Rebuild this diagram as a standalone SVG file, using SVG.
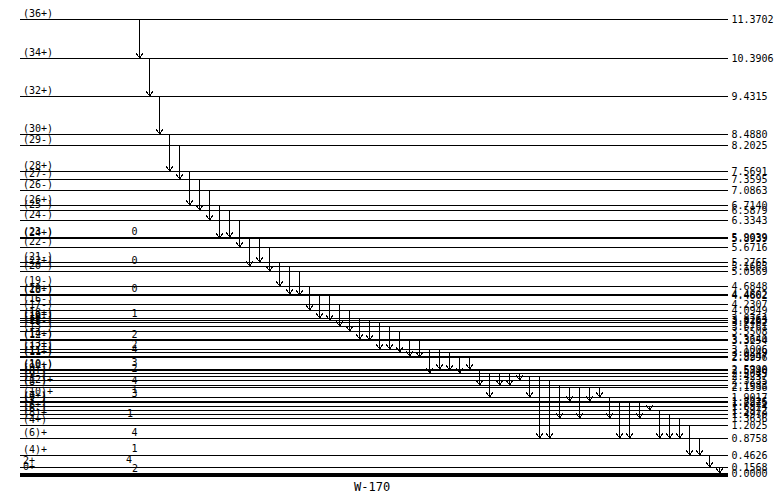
<svg xmlns="http://www.w3.org/2000/svg" width="781" height="496" viewBox="0 0 781 496" shape-rendering="crispEdges">
<style>
line{stroke:#000;stroke-width:1}
.a{stroke:#000;stroke-width:1;fill:none;marker-end:url(#ah)}
text{font-family:'DejaVu Sans Mono','Liberation Mono',monospace;font-size:10px;fill:#000}
.s{text-anchor:start}
.big{font-size:12px}
</style>
<defs>
<marker id="ah" markerUnits="userSpaceOnUse" orient="auto" overflow="visible" refX="0" refY="0" markerWidth="8" markerHeight="8">
<path d="M-5,-3.5 L0,0 L-5,3.5" stroke="#000" fill="none" stroke-width="1"/>
<rect x="-2" y="-1" width="2" height="2" fill="#000"/>
</marker>
</defs>
<rect width="781" height="496" fill="#fff"/>
<g id="levels">
<g id="L36p"><line x1="20" y1="19.5" x2="728" y2="19.5"/><text x="23" y="16.5">(36+)</text><text x="731.5" y="23">11.3702</text></g>
<g id="L34p"><line x1="20" y1="58.5" x2="728" y2="58.5"/><text x="23" y="55.5">(34+)</text><text x="731.5" y="62">10.3906</text></g>
<g id="L32p"><line x1="20" y1="96.5" x2="728" y2="96.5"/><text x="23" y="93.5">(32+)</text><text x="731.5" y="100">9.4315</text></g>
<g id="L30p"><line x1="20" y1="134.5" x2="728" y2="134.5"/><text x="23" y="131.5">(30+)</text><text x="731.5" y="138">8.4880</text></g>
<g id="L29m"><line x1="20" y1="145.5" x2="728" y2="145.5"/><text x="23" y="142.5">(29-)</text><text x="731.5" y="149">8.2025</text></g>
<g id="L28p"><line x1="20" y1="171.5" x2="728" y2="171.5"/><text x="23" y="168.5">(28+)</text><text x="731.5" y="175">7.5691</text></g>
<g id="L27m"><line x1="20" y1="179.5" x2="728" y2="179.5"/><text x="23" y="176.5">(27-)</text><text x="731.5" y="183">7.3595</text></g>
<g id="L26m"><line x1="20" y1="190.5" x2="728" y2="190.5"/><text x="23" y="187.5">(26-)</text><text x="731.5" y="194">7.0863</text></g>
<g id="L26p"><line x1="20" y1="205.5" x2="728" y2="205.5"/><text x="23" y="202.5">(26+)</text><text x="731.5" y="209">6.7140</text></g>
<g id="L25m"><line x1="20" y1="210.5" x2="728" y2="210.5"/><text x="23" y="207.5">(25-)</text><text x="731.5" y="214">6.5879</text></g>
<g id="L24m"><line x1="20" y1="220.5" x2="728" y2="220.5"/><text x="23" y="217.5">(24-)</text><text x="731.5" y="224">6.3343</text></g>
<g id="L23m"><line x1="20" y1="237.5" x2="728" y2="237.5"/><text x="23" y="234.5">(23-)</text><text x="731.5" y="241">5.9039</text></g>
<g id="L24p"><line x1="20" y1="238.5" x2="728" y2="238.5"/><text x="23" y="235.5">(24+)</text><text x="731.5" y="242">5.8939</text></g>
<g id="L22m"><line x1="20" y1="247.5" x2="728" y2="247.5"/><text x="23" y="244.5">(22-)</text><text x="731.5" y="251">5.6716</text></g>
<g id="L21m"><line x1="20" y1="262.5" x2="728" y2="262.5"/><text x="23" y="259.5">(21-)</text><text x="731.5" y="266">5.2765</text></g>
<g id="L22p"><line x1="20" y1="266.5" x2="728" y2="266.5"/><text x="23" y="263.5">(22+)</text><text x="731.5" y="270">5.1665</text></g>
<g id="L20m"><line x1="20" y1="271.5" x2="728" y2="271.5"/><text x="23" y="268.5">(20-)</text><text x="731.5" y="275">5.0569</text></g>
<g id="L19m"><line x1="20" y1="286.5" x2="728" y2="286.5"/><text x="23" y="283.5">(19-)</text><text x="731.5" y="290">4.6848</text></g>
<g id="L20p"><line x1="20" y1="294.5" x2="728" y2="294.5"/><text x="23" y="291.5">(20+)</text><text x="731.5" y="298">4.4802</text></g>
<g id="L18m"><line x1="20" y1="295.5" x2="728" y2="295.5"/><text x="23" y="292.5">(18-)</text><text x="731.5" y="299">4.4662</text></g>
<g id="L16m"><line x1="20" y1="304.5" x2="728" y2="304.5"/><text x="23" y="301.5">(16-)</text><text x="731.5" y="308">4.2307</text></g>
<g id="L17m"><line x1="20" y1="310.5" x2="728" y2="310.5"/><text x="23" y="307.5">(17-)</text><text x="731.5" y="314">4.0949</text></g>
<g id="L18p"><line x1="20" y1="318.5" x2="728" y2="318.5"/><text x="23" y="315.5">(18+)</text><text x="731.5" y="322">3.8764</text></g>
<g id="L16p"><line x1="20" y1="320.5" x2="728" y2="320.5"/><text x="23" y="317.5">(16+)</text><text x="731.5" y="324">3.8263</text></g>
<g id="L14m"><line x1="20" y1="322.5" x2="728" y2="322.5"/><text x="23" y="319.5">(14-)</text><text x="731.5" y="326">3.7762</text></g>
<g id="L15m"><line x1="20" y1="326.5" x2="728" y2="326.5"/><text x="23" y="323.5">(15-)</text><text x="731.5" y="330">3.6761</text></g>
<g id="L13m"><line x1="20" y1="331.5" x2="728" y2="331.5"/><text x="23" y="328.5">(13-)</text><text x="731.5" y="335">3.5508</text></g>
<g id="L14p"><line x1="20" y1="339.5" x2="728" y2="339.5"/><text x="23" y="336.5">(14+)</text><text x="731.5" y="343">3.3640</text></g>
<g id="L12m"><line x1="20" y1="340.5" x2="728" y2="340.5"/><text x="23" y="337.5">(12-)</text><text x="731.5" y="344">3.3254</text></g>
<g id="L13p"><line x1="20" y1="349.5" x2="728" y2="349.5"/><text x="23" y="346.5">(13+)</text><text x="731.5" y="353">3.1006</text></g>
<g id="L12p"><line x1="20" y1="352.5" x2="728" y2="352.5"/><text x="23" y="349.5">(12+)</text><text x="731.5" y="356">3.0249</text></g>
<g id="L11m"><line x1="20" y1="356.5" x2="728" y2="356.5"/><text x="23" y="353.5">(11-)</text><text x="731.5" y="360">2.9247</text></g>
<g id="L11p"><line x1="20" y1="357.5" x2="728" y2="357.5"/><text x="23" y="354.5">(11+)</text><text x="731.5" y="361">2.8996</text></g>
<g id="L10m"><line x1="20" y1="369.5" x2="728" y2="369.5"/><text x="23" y="366.5">(10-)</text><text x="731.5" y="373">2.5990</text></g>
<g id="L10p"><line x1="20" y1="370.5" x2="728" y2="370.5"/><text x="23" y="367.5">(10+)</text><text x="731.5" y="374">2.5740</text></g>
<g id="L9p"><line x1="20" y1="373.5" x2="728" y2="373.5"/><text x="23" y="370.5">(9+)</text><text x="731.5" y="377">2.5045</text></g>
<g id="L8p"><line x1="20" y1="376.5" x2="728" y2="376.5"/><text x="23" y="373.5">(8+)</text><text x="731.5" y="380">2.4237</text></g>
<g id="L9m"><line x1="20" y1="380.5" x2="728" y2="380.5"/><text x="23" y="377.5">(9-)</text><text x="731.5" y="384">2.3235</text></g>
<g id="L12g"><line x1="20" y1="385.5" x2="728" y2="385.5"/><text x="23" y="382.5">(12)+</text><text x="731.5" y="389">2.1983</text></g>
<g id="L8m"><line x1="20" y1="387.5" x2="728" y2="387.5"/><text x="23" y="384.5">(8-)</text><text x="731.5" y="391">2.1536</text></g>
<g id="L10g"><line x1="20" y1="397.5" x2="728" y2="397.5"/><text x="23" y="394.5">(10)+</text><text x="731.5" y="401">1.9017</text></g>
<g id="L7p"><line x1="20" y1="401.5" x2="728" y2="401.5"/><text x="23" y="398.5">(7+)</text><text x="731.5" y="405">1.8226</text></g>
<g id="L9m2"><line x1="20" y1="402.5" x2="728" y2="402.5"/><text x="23" y="399.5">(9-)</text><text x="731.5" y="406">1.7975</text></g>
<g id="L7m"><line x1="20" y1="406.5" x2="728" y2="406.5"/><text x="23" y="403.5">(7-)</text><text x="731.5" y="410">1.6974</text></g>
<g id="L6p"><line x1="20" y1="410.5" x2="728" y2="410.5"/><text x="23" y="407.5">(6+)</text><text x="731.5" y="414">1.5972</text></g>
<g id="L6m"><line x1="20" y1="414.5" x2="728" y2="414.5"/><text x="23" y="411.5">(6-)</text><text x="731.5" y="418">1.4970</text></g>
<g id="L8g"><line x1="20" y1="418.5" x2="728" y2="418.5"/><text x="23" y="415.5">(8)+</text><text x="731.5" y="422">1.3636</text></g>
<g id="L4p"><line x1="20" y1="425.5" x2="728" y2="425.5"/><text x="23" y="422.5">(4+)</text><text x="731.5" y="429">1.2025</text></g>
<g id="L6g"><line x1="20" y1="438.5" x2="728" y2="438.5"/><text x="23" y="435.5">(6)+</text><text x="731.5" y="442">0.8758</text></g>
<g id="L4g"><line x1="20" y1="455.5" x2="728" y2="455.5"/><text x="23" y="452.5">(4)+</text><text x="731.5" y="459">0.4626</text></g>
<g id="L2g"><line x1="20" y1="467.5" x2="728" y2="467.5"/><text x="23" y="464">2+</text><text x="731.5" y="471">0.1568</text></g>
<g id="L0g"><rect x="20" y="473" width="708" height="3.5" fill="#000"/><text x="23" y="470">0+</text><text x="731.5" y="477">0.0000</text></g>
</g>
<g id="band-numbers">
<text x="131.5" y="235.3">0</text>
<text x="131.5" y="263.6">0</text>
<text x="131.5" y="291.6">0</text>
<text x="131.5" y="316.8">1</text>
<text x="131.5" y="337.5">2</text>
<text x="131.5" y="347.5">2</text>
<text x="131.5" y="353">4</text>
<text x="131.5" y="366.3">3</text>
<text x="131.5" y="371.5">2</text>
<text x="131.5" y="383.5">4</text>
<text x="131.5" y="392.5">1</text>
<text x="131.5" y="397">3</text>
<text x="127" y="416.8">1</text>
<text x="131.5" y="435.5">4</text>
<text x="131.5" y="451.5">1</text>
<text x="126" y="462.5">4</text>
<text x="132" y="471.5">2</text>
</g>
<g id="connectors">
<path class="a" d="M139.5,20V58"/>
<path class="a" d="M149.5,59V96"/>
<path class="a" d="M159.5,97V134"/>
<path class="a" d="M169.5,135V171"/>
<path class="a" d="M179.5,146V179"/>
<path class="a" d="M189.5,172V205"/>
<path class="a" d="M199.5,180V210"/>
<path class="a" d="M209.5,191V220"/>
<path class="a" d="M219.5,206V238"/>
<path class="a" d="M229.5,211V237"/>
<path class="a" d="M239.5,221V247"/>
<path class="a" d="M249.5,239V266"/>
<path class="a" d="M259.5,238V262"/>
<path class="a" d="M269.5,248V271"/>
<path class="a" d="M279.5,263V286"/>
<path class="a" d="M289.5,267V294"/>
<path class="a" d="M299.5,272V295"/>
<path class="a" d="M309.5,287V310"/>
<path class="a" d="M319.5,295V318"/>
<path class="a" d="M329.5,296V320"/>
<path class="a" d="M339.5,305V326"/>
<path class="a" d="M349.5,311V331"/>
<path class="a" d="M359.5,319V339"/>
<path class="a" d="M369.5,321V340"/>
<path class="a" d="M379.5,323V349"/>
<path class="a" d="M389.5,327V349"/>
<path class="a" d="M399.5,332V352"/>
<path class="a" d="M409.5,340V356"/>
<path class="a" d="M419.5,341V357"/>
<path class="a" d="M429.5,350V373"/>
<path class="a" d="M439.5,350V369"/>
<path class="a" d="M449.5,353V370"/>
<path class="a" d="M459.5,358V373"/>
<path class="a" d="M469.5,357V369"/>
<path class="a" d="M479.5,371V385"/>
<path class="a" d="M489.5,374V397"/>
<path class="a" d="M499.5,374V385"/>
<path class="a" d="M509.5,374V385"/>
<path class="a" d="M519.5,374V380"/>
<path class="a" d="M529.5,377V397"/>
<path class="a" d="M539.5,377V438"/>
<path class="a" d="M549.5,381V438"/>
<path class="a" d="M559.5,386V418"/>
<path class="a" d="M569.5,388V401"/>
<path class="a" d="M579.5,388V418"/>
<path class="a" d="M589.5,388V401"/>
<path class="a" d="M599.5,388V397"/>
<path class="a" d="M609.5,398V418"/>
<path class="a" d="M619.5,402V438"/>
<path class="a" d="M629.5,403V438"/>
<path class="a" d="M639.5,403V418"/>
<path class="a" d="M649.5,407V410"/>
<path class="a" d="M659.5,411V438"/>
<path class="a" d="M669.5,415V438"/>
<path class="a" d="M679.5,419V438"/>
<path class="a" d="M689.5,426V455"/>
<path class="a" d="M699.5,439V455"/>
<path class="a" d="M709.5,456V467"/>
<path class="a" d="M719.5,468V473"/>
</g>
<text class="big" x="354" y="491">W-170</text>
</svg>
